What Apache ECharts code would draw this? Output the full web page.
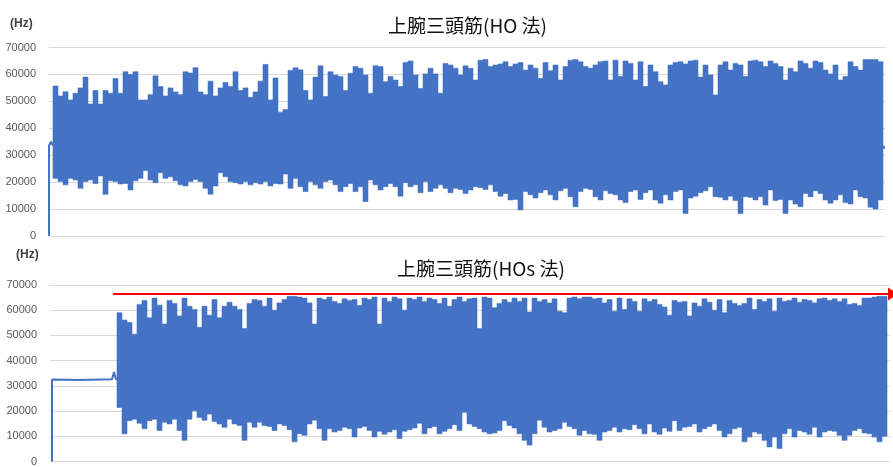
<!DOCTYPE html>
<html>
<head>
<meta charset="utf-8">
<script src="https://cdn.jsdelivr.net/npm/echarts@6/dist/echarts.min.js"></script>
<style>
  html, body { margin: 0; padding: 0; background: #ffffff; }
  #chart { width: 893px; height: 467px; }
</style>
</head>
<body>
<div id="chart"></div>
<script>
// Panel titles
const titleHO = '上腕三頭筋(HO 法)';
const titleHOs = '上腕三頭筋(HOs 法)';
const unitLabel = '(Hz)';

// Y axis range (Hz)
const yMin = 0;
const yMax = 70000;
const yStep = 10000;

// HO method: per-block peak (upper) and trough (lower) frequency, Hz
const hoUpper = [
  55700, 52000, 53600, 50500, 53000, 55000, 59000, 49000, 54000, 49000,
  54000, 53000, 58500, 53000, 61000, 60000, 61000, 50500, 50500, 52500,
  59500, 55500, 52000, 55000, 53500, 52500, 61000, 60500, 62500, 53500,
  52500, 57500, 52000, 55000, 57000, 55500, 61000, 54000, 55000, 51500,
  53500, 57500, 63700, 50500, 58700, 46000, 47000, 61500, 62500,
  61700, 54000, 50500, 59000, 63200, 51800, 61000, 59800, 59200, 54000,
  60400, 62900, 62300, 59800, 53000, 63200, 62900, 57300, 59200, 57900,
  55500, 64400, 65000, 59800, 54800, 60200, 62300, 60200, 53000, 64100,
  63500, 62300, 59800, 63200, 62300, 57900, 65300, 65500, 62900, 63500,
  63900, 64700, 62900, 63900, 64400, 61600, 63500, 62300, 58500, 64400,
  61400, 63500, 57900, 62900, 65300, 65500, 64700, 62900,
  62300, 63500, 64700, 65000, 57900, 65300, 59200, 65000, 64100, 57900,
  64700, 55500, 63500, 61000, 57300, 56100, 63500, 64400, 64700, 63900,
  65000, 65300, 59000, 63500, 59800, 52400, 63500, 64700, 61600, 64100,
  63500, 59200, 65000, 65300, 64700, 62900, 65000, 64100, 62900, 57900,
  62300, 61000, 65000, 64100, 62300, 65000, 64400, 61600, 60200, 63500,
  57900, 59200, 64700, 62900, 61600, 65500, 65500, 65500, 64700
];
const hoLower = [
  21400, 20200, 19000, 21400, 20800, 17700, 20200, 20800, 19500, 22300,
  15500, 20500, 20200, 19300, 19500, 17100, 20500, 21400, 24300, 20800,
  19800, 23500, 21400, 22000, 20500, 19000, 18600, 20200, 21000, 20200,
  17700, 15500, 18600, 23500, 22000, 20200, 19800, 19300, 20200, 19000,
  19800, 19300, 20200, 18600, 19500, 19300, 23000, 17700, 21400,
  18300, 16500, 20200, 19000, 17700, 20200, 20800, 19000, 16500, 18300,
  19500, 16500, 18300, 12800, 20800, 19000, 17100, 18300, 19500, 18300,
  14800, 19800, 18300, 19000, 16100, 20200, 16500, 17700, 19000, 17700,
  16100, 17700, 17300, 15800, 17100, 18300, 18000, 17300, 19000, 16500,
  14800, 15800, 13400, 13600, 9700, 16500, 15300, 14100, 16100, 17100,
  15300, 13400, 16800, 17700, 14600, 10900, 16500, 17700,
  17300, 14600, 13400, 16800, 15800, 15300, 13400, 12400, 16500, 17100,
  13600, 16100, 17100, 13400, 12200, 15300, 13400, 16500, 17100, 8400,
  14100, 14800, 16100, 16800, 18300, 14600, 14400, 13400, 14800, 13200,
  8400, 14600, 14400, 13400, 14600, 11500, 17100, 13200, 13600, 8400,
  13400, 11900, 10900, 15800, 14600, 16800, 15800, 13400, 12200, 13400,
  15300, 12400, 11900, 17100, 14600, 14100, 10700, 10000, 13400
];
// HO method: resting trace before and after the burst, [sample, Hz]
const hoLead = [[0, 0], [0, 33500], [0.4, 35000], [0.8, 33500]];
const hoTail = [[166.8, 33000], [167.2, 33000]];

// HOs method: per-block peak (upper) and trough (lower) frequency, Hz
const hosUpper = [
  59000, 56100, 55100, 50500, 62300, 63900, 57000, 64800, 62000, 54500,
  63900, 62700, 57700, 64800, 61600, 60300, 53200, 61600, 58000, 64200,
  57000, 61600, 63200, 61600, 60300, 52700, 62700, 64200, 63900, 61600,
  64800, 60000, 62900, 64200, 65500, 65500, 65200,
  64800, 62900, 54500, 64800, 64200, 65200, 63500, 62700, 64500, 63900,
  64200, 61900, 64800, 64200, 65200, 54500, 64800, 63500, 65200, 64500,
  60000, 64800, 64200, 65200, 63500, 64800, 64200, 62700, 64800, 61600,
  64200, 65200, 63500, 64500, 64800, 52700, 65200, 64800, 61000, 62700,
  64200, 63200, 64800, 63500, 64800, 59300, 64800, 63500, 64200, 62900,
  64500, 59600, 59000, 64800, 65200, 64500, 65200,
  65200, 64500, 64800, 62900, 64200, 59600, 64800, 60300, 64500, 63500,
  59600, 64500, 63500, 64200, 62300, 61300, 58000, 63900, 63200, 63500,
  57700, 62900, 61600, 64500, 63200, 60000, 64200, 59000, 63900, 62700,
  61900, 62700, 64800, 60300, 64200, 63500, 64500, 59600, 64800, 63500,
  63900, 64800, 63200, 64200, 63900, 62900, 64500, 64800, 63900, 64500,
  63500, 64500, 62300, 62700, 61900, 64800, 64800, 65200, 65500, 65500
];
const hosLower = [
  21400, 11000, 16200, 16800, 15200, 13000, 16200, 16800, 12300, 15600,
  14900, 16800, 12300, 8400, 16800, 20100, 17500, 16400, 18800, 15900,
  14900, 13600, 16800, 14900, 14300, 8400, 15600, 13600, 15600, 14300,
  13900, 12300, 14900, 14300, 12600, 7800, 11000,
  10400, 14900, 16400, 13000, 8400, 13000, 11700, 12300, 13600, 13000,
  9700, 13300, 13900, 12300, 9700, 12000, 10800, 11700, 12600, 9100,
  12000, 12600, 13300, 15200, 11000, 13300, 13900, 11000, 12000, 13000,
  14600, 12300, 19500, 14900, 13900, 13000, 11700, 11000, 11300, 12300,
  16200, 14300, 13300, 11000, 8400, 6500, 11000, 16400, 13600, 11700,
  12300, 13000, 15600, 13900, 13000, 10400, 12300,
  11000, 10800, 8400, 11700, 12300, 13600, 11700, 13000, 12600, 14600,
  13000, 11000, 14900, 11700, 10800, 13300, 12000, 16200, 12300, 13600,
  13900, 14900, 11700, 13000, 13900, 14900, 12300, 9700, 11000, 13000,
  13600, 7800, 9700, 11700, 11000, 8400, 5800, 9700, 5200, 11000,
  13000, 9700, 12300, 11700, 10800, 13600, 9700, 11700, 12300, 12000,
  10400, 8400, 10400, 12300, 13000, 11300, 11000, 9700, 7800, 10000
];
// HOs method: steady baseline before stimulation, [sample, Hz]
const hosLead = [[0.4, 0], [0.4, 32500], [6, 32300], [12.4, 32600], [12.8, 35500], [13.2, 32500], [13.4, 33000]];
// Reference level marked with the red arrow, Hz
const hosCeiling = 66400;

// Sample-axis spans of each panel and where the burst blocks begin
const hoSpan = 167.2, hoBurstStart = 0.8;
const hosSpan = 168, hosBurstStart = 13.4;
const arrowFrom = 12.6, arrowTo = 168.6;

const BLUE = '#4472C4';

// The burst is drawn as one closed step outline: along the peaks left to right,
// then back along the troughs, every vertex placed through the axis scales.
function bandRenderer(start, upper, lower) {
  return function (params, api) {
    const pts = [];
    for (let i = 0; i < upper.length; i++) {
      pts.push(api.coord([start + i, upper[i]]), api.coord([start + i + 1, upper[i]]));
    }
    for (let i = lower.length - 1; i >= 0; i--) {
      pts.push(api.coord([start + i + 1, lower[i]]), api.coord([start + i, lower[i]]));
    }
    return { type: 'polygon', shape: { points: pts }, style: { fill: BLUE, stroke: BLUE, lineWidth: 0.6 } };
  };
}

function bandSeries(gridIdx, start, upper, lower) {
  return {
    type: 'custom', xAxisIndex: gridIdx, yAxisIndex: gridIdx,
    renderItem: bandRenderer(start, upper, lower),
    encode: { x: 0, y: 1 },
    data: [[start, Math.max(...upper)]]
  };
}

const yAxisBase = {
  type: 'value', min: yMin, max: yMax, interval: yStep,
  axisLine: { show: false }, axisTick: { show: false },
  axisLabel: { color: '#595959', fontSize: 11, fontFamily: 'Liberation Sans, Arial, sans-serif', margin: 13,
    formatter: v => String(v) },
  splitLine: { lineStyle: { color: '#d9d9d9', width: 1 } }
};

const chart = echarts.init(document.getElementById('chart'), null, { renderer: 'canvas' });
chart.setOption({
  animation: false,
  backgroundColor: '#ffffff',
  title: [
    { text: titleHO, left: 383, top: 11,
      textStyle: { fontSize: 19, fontWeight: 'normal', color: '#111', fontFamily: "'Noto Sans CJK JP', sans-serif" } },
    { text: titleHOs, left: 392, top: 254,
      textStyle: { fontSize: 19, fontWeight: 'normal', color: '#111', fontFamily: "'Noto Sans CJK JP', sans-serif" } }
  ],
  graphic: [
    { type: 'text', left: 10, top: 18, style: { text: unitLabel, font: 'bold 12px Liberation Sans, Arial, sans-serif', fill: '#404040' } },
    { type: 'text', left: 16, top: 249, style: { text: unitLabel, font: 'bold 12px Liberation Sans, Arial, sans-serif', fill: '#404040' } }
  ],
  grid: [
    { left: 49, right: 8, top: 47.5, height: 188.5 },
    { left: 50, right: 3, top: 285, height: 180 }
  ],
  xAxis: [
    { gridIndex: 0, type: 'value', min: 0, max: hoSpan, show: false },
    { gridIndex: 1, type: 'value', min: 0, max: hosSpan, show: false }
  ],
  yAxis: [
    Object.assign({ gridIndex: 0 }, yAxisBase),
    Object.assign({ gridIndex: 1 }, yAxisBase)
  ],
  series: [
    bandSeries(0, hoBurstStart, hoUpper, hoLower),
    { type: 'line', xAxisIndex: 0, yAxisIndex: 0, data: hoLead, showSymbol: false, symbol: 'none',
      lineStyle: { color: BLUE, width: 2 } },
    { type: 'line', xAxisIndex: 0, yAxisIndex: 0, data: hoTail, showSymbol: false, symbol: 'none',
      lineStyle: { color: BLUE, width: 3 } },
    bandSeries(1, hosBurstStart, hosUpper, hosLower),
    { type: 'line', xAxisIndex: 1, yAxisIndex: 1, data: hosLead, showSymbol: false, symbol: 'none',
      lineStyle: { color: BLUE, width: 2 } },
    { type: 'line', xAxisIndex: 1, yAxisIndex: 1, z: 5, clip: false,
      data: [[arrowFrom, hosCeiling], { value: [arrowTo, hosCeiling], symbol: 'triangle', symbolSize: [13, 10], symbolRotate: -90 }],
      showSymbol: true, symbol: 'none',
      itemStyle: { color: '#ff0000' },
      lineStyle: { color: '#ff0000', width: 2 } }
  ]
});
</script>
</body>
</html>
